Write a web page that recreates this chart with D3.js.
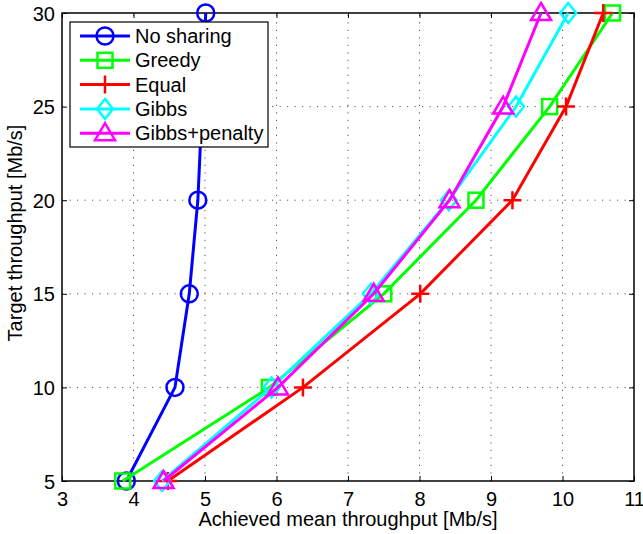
<!DOCTYPE html>
<html><head><meta charset="utf-8">
<script src="https://cdn.jsdelivr.net/npm/d3@7"></script>
<style>body{margin:0;background:#fff}svg{display:block}text{font-family:"Liberation Sans",Arial,sans-serif}</style>
</head><body>
<script>
const targets = [5, 10, 15, 20, 25, 30];
const noSharing = [3.90, 4.58, 4.78, 4.90, 4.96, 5.01];
const greedy = [3.85, 5.90, 7.50, 8.79, 9.82, 10.70];
const equal = [4.48, 6.37, 8.01, 9.30, 10.05, 10.57];
const gibbs = [4.40, 5.93, 7.32, 8.41, 9.35, 10.08];
const gibbsPenalty = [4.42, 6.02, 7.36, 8.42, 9.17, 9.70];
const seriesNames = ["No sharing", "Greedy", "Equal", "Gibbs", "Gibbs+penalty"];
const seriesColors = ["#0000ff", "#00ff00", "#ff0000", "#00ffff", "#ff00ff"];
const seriesMarkers = ["circle", "square", "plus", "diamond", "triangle"];
const xTicks = [3, 4, 5, 6, 7, 8, 9, 10, 11];
const yTicks = [5, 10, 15, 20, 25, 30];
const allSeries = [noSharing, greedy, equal, gibbs, gibbsPenalty];

const W = 643, H = 534;
const L = 62, R = 634, T = 13, B = 481;
const svg = d3.select("body").append("svg").attr("width", W).attr("height", H);
const x = d3.scaleLinear().domain([3, 11]).range([L, R]);
const y = d3.scaleLinear().domain([5, 30]).range([B, T]);

// grid
const grid = svg.append("g").attr("stroke", "#555").attr("stroke-width", 1).attr("stroke-dasharray", "1.2,6.3");
xTicks.slice(1, -1).forEach(v => grid.append("line").attr("x1", x(v)).attr("x2", x(v)).attr("y1", B).attr("y2", T));
yTicks.slice(1, -1).forEach(v => grid.append("line").attr("y1", y(v)).attr("y2", y(v)).attr("x1", L).attr("x2", R));

// axes
const tfs = 20, fs = 20;
svg.append("g").attr("transform", `translate(0,${B})`)
  .call(d3.axisBottom(x).tickValues(xTicks).tickSize(-5).tickPadding(10).tickFormat(d3.format("d")))
  .call(g => { g.select(".domain").remove(); g.selectAll("text").attr("font-size", tfs).attr("fill", "#000").attr("dy", null).attr("y", 25); g.selectAll("line").attr("stroke", "#000"); });
svg.append("g").attr("transform", `translate(${L},0)`)
  .call(d3.axisLeft(y).tickValues(yTicks).tickSize(-5).tickPadding(7).tickFormat(d3.format("d")))
  .call(g => { g.select(".domain").remove(); g.selectAll("text").attr("font-size", tfs).attr("fill", "#000").attr("dy", null).attr("y", 7); g.selectAll("line").attr("stroke", "#000"); });
svg.append("g").attr("transform", `translate(0,${T})`)
  .call(d3.axisTop(x).tickValues(xTicks).tickSize(-5).tickFormat(""))
  .call(g => { g.select(".domain").remove(); g.selectAll("line").attr("stroke", "#000"); });
svg.append("g").attr("transform", `translate(${R},0)`)
  .call(d3.axisRight(y).tickValues(yTicks).tickSize(-5).tickFormat(""))
  .call(g => { g.select(".domain").remove(); g.selectAll("line").attr("stroke", "#000"); });
svg.append("rect").attr("x", L).attr("y", T).attr("width", R - L).attr("height", B - T)
  .attr("fill", "none").attr("stroke", "#000").attr("stroke-width", 1.5);

svg.append("text").attr("x", 348).attr("y", 526).attr("text-anchor", "middle").attr("font-size", fs).text("Achieved mean throughput [Mb/s]");
svg.append("text").attr("transform", `translate(22,233) rotate(-90)`).attr("text-anchor", "middle").attr("font-size", fs).text("Target throughput [Mb/s]");

function marker(g, type, cx, cy, color) {
  const s = g.append("g").attr("fill", "none").attr("stroke", color).attr("stroke-width", 2.5);
  if (type === "circle") s.append("circle").attr("cx", cx).attr("cy", cy).attr("r", 8.5);
  else if (type === "square") s.append("rect").attr("x", cx - 7.5).attr("y", cy - 7.5).attr("width", 15).attr("height", 15);
  else if (type === "plus") s.append("path").attr("d", `M${cx - 9},${cy}H${cx + 9}M${cx},${cy - 9}V${cy + 9}`);
  else if (type === "diamond") s.append("path").attr("d", `M${cx},${cy - 10}L${cx + 8},${cy}L${cx},${cy + 10}L${cx - 8},${cy}Z`);
  else if (type === "triangle") s.append("path").attr("d", `M${cx},${cy - 10}L${cx + 10},${cy + 7}L${cx - 10},${cy + 7}Z`);
}

const line = d3.line().x(d => x(d[0])).y(d => y(d[1]));
allSeries.forEach((vals, i) => {
  const pts = vals.map((v, j) => [v, targets[j]]);
  const g = svg.append("g");
  g.append("path").attr("d", line(pts)).attr("fill", "none").attr("stroke", seriesColors[i]).attr("stroke-width", 3);
  pts.forEach(p => marker(g, seriesMarkers[i], x(p[0]), y(p[1]), seriesColors[i]));
});

// legend
const lg = svg.append("g");
lg.append("rect").attr("x", 70).attr("y", 22).attr("width", 198).attr("height", 125).attr("fill", "#fff").attr("stroke", "#000").attr("stroke-width", 1.2);
seriesNames.forEach((n, i) => {
  const cy = 36 + i * 24.3;
  lg.append("line").attr("x1", 80).attr("x2", 130).attr("y1", cy).attr("y2", cy).attr("stroke", seriesColors[i]).attr("stroke-width", 3);
  marker(lg, seriesMarkers[i], 105, cy, seriesColors[i]);
  lg.append("text").attr("x", 135).attr("y", cy + 7).attr("font-size", fs).text(n);
});
</script>
</body></html>
